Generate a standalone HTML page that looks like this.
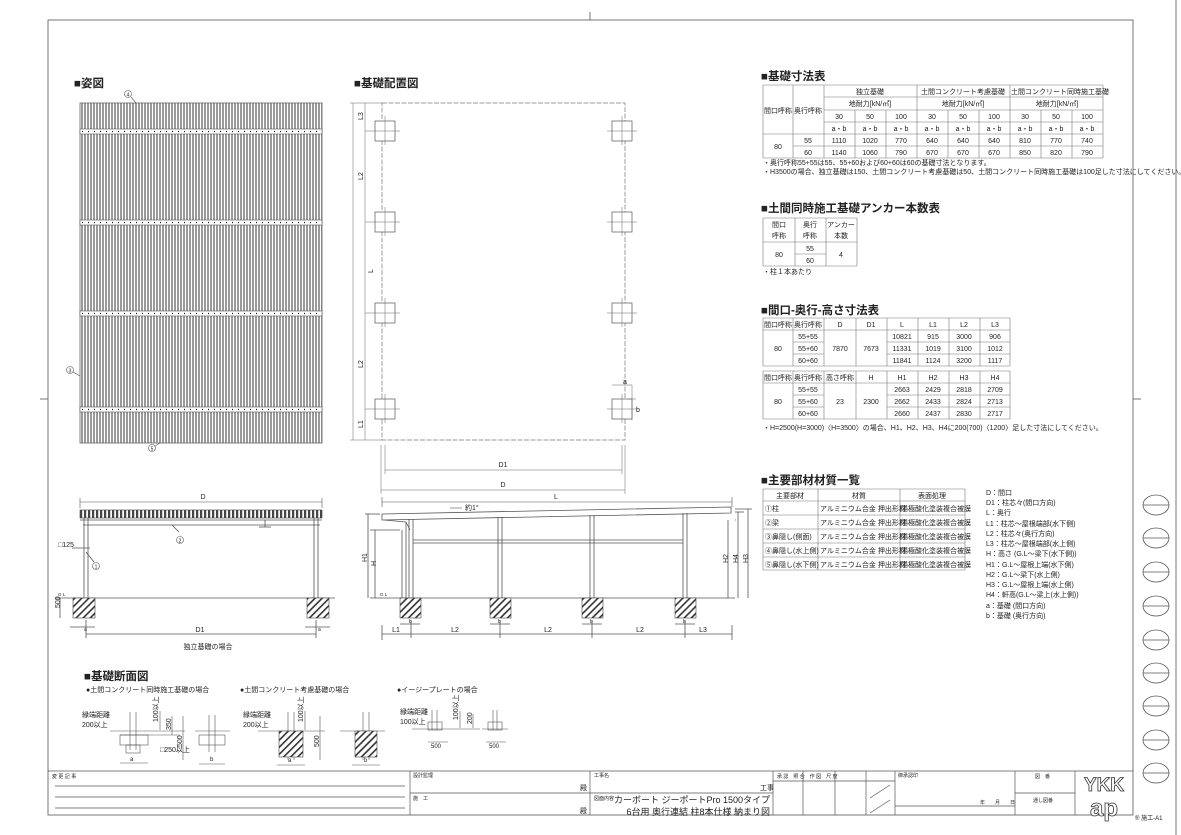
<!DOCTYPE html>
<html><head><meta charset="utf-8"><style>
html,body{margin:0;padding:0;background:#fff;}
svg{display:block;}
text{font-family:"Liberation Sans","Noto Sans CJK JP",sans-serif;fill:#222;}
.t{font-size:7px;}
.h{font-size:11.5px;font-weight:bold;}
.m{text-anchor:middle;}
</style></head><body>
<svg width="1181" height="835" viewBox="0 0 1181 835" xmlns="http://www.w3.org/2000/svg">
<defs>
<pattern id="rs" width="3" height="10" patternUnits="userSpaceOnUse"><rect width="3" height="10" fill="#fff"/><rect width="2" height="10" fill="#9a9a9a"/></pattern>
<pattern id="fb" width="4" height="10" patternUnits="userSpaceOnUse"><rect width="4" height="10" fill="#fff"/><rect width="2.2" height="10" fill="#444"/></pattern>
<pattern id="ht" width="5" height="5" patternUnits="userSpaceOnUse" patternTransform="rotate(45)"><rect width="5" height="5" fill="#fff"/><rect width="1.6" height="5" fill="#333"/></pattern>
</defs>
<g fill="none" stroke="#555" stroke-width="0.8">
<rect x="48" y="20" width="1085" height="795"/>
<line x1="1176" y1="0" x2="1176" y2="835"/>
<line x1="40" y1="399" x2="48" y2="399"/><line x1="1133" y1="399" x2="1141" y2="399"/>
<line x1="590" y1="12" x2="590" y2="20"/>
</g>
<!-- circles right -->
<g fill="none" stroke="#555" stroke-width="0.8">
<ellipse cx="1156" cy="505" rx="13" ry="10"/><line x1="1143" y1="505" x2="1169" y2="505"/>
<ellipse cx="1156" cy="538" rx="13" ry="10"/><line x1="1143" y1="538" x2="1169" y2="538"/>
<ellipse cx="1156" cy="572" rx="13" ry="10"/><line x1="1143" y1="572" x2="1169" y2="572"/>
<ellipse cx="1156" cy="606" rx="13" ry="10"/><line x1="1143" y1="606" x2="1169" y2="606"/>
<ellipse cx="1156" cy="640" rx="13" ry="10"/><line x1="1143" y1="640" x2="1169" y2="640"/>
<ellipse cx="1156" cy="673" rx="13" ry="10"/><line x1="1143" y1="673" x2="1169" y2="673"/>
<ellipse cx="1156" cy="706" rx="13" ry="10"/><line x1="1143" y1="706" x2="1169" y2="706"/>
<ellipse cx="1156" cy="740" rx="13" ry="10"/><line x1="1143" y1="740" x2="1169" y2="740"/>
<ellipse cx="1156" cy="773" rx="13" ry="10"/><line x1="1143" y1="773" x2="1169" y2="773"/>
</g>

<!-- 姿図 -->
<text x="74" y="87" class="h">■姿図</text>
<rect x="80" y="103" width="242" height="340" fill="url(#rs)" stroke="#666" stroke-width="0.8"/>
<g fill="#fff" stroke="#555" stroke-width="0.6">
<rect x="80" y="129" width="242" height="5"/><rect x="80" y="220" width="242" height="5"/><rect x="80" y="311" width="242" height="5"/><rect x="80" y="407" width="242" height="5"/>
</g>
<g stroke="#222" stroke-width="1.2" stroke-dasharray="1 5">
<line x1="82" y1="131.5" x2="322" y2="131.5"/><line x1="82" y1="222.5" x2="322" y2="222.5"/><line x1="82" y1="313.5" x2="322" y2="313.5"/><line x1="82" y1="409.5" x2="322" y2="409.5"/>
</g>
<g fill="none" stroke="#555" stroke-width="0.6">
<circle cx="128" cy="94" r="3.5"/><line x1="131" y1="97" x2="136" y2="103"/>
<circle cx="70" cy="370" r="3.5"/><line x1="73" y1="372" x2="80" y2="376"/>
<circle cx="152" cy="448" r="3.5"/><line x1="155" y1="446" x2="160" y2="443"/>
</g>
<text x="128" y="96.5" class="t m" style="font-size:5px">4</text>
<text x="70" y="372.5" class="t m" style="font-size:5px">3</text>
<text x="152" y="450.5" class="t m" style="font-size:5px">5</text>

<!-- 基礎配置図 -->
<text x="354" y="87" class="h">■基礎配置図</text>
<rect x="382" y="103" width="243" height="337" fill="none" stroke="#777" stroke-width="0.7" stroke-dasharray="5 1.5"/>
<g fill="#fff" stroke="#555" stroke-width="0.7">
<rect x="375" y="121" width="20" height="20"/><rect x="612" y="121" width="20" height="20"/>
<rect x="375" y="212" width="20" height="20"/><rect x="612" y="212" width="20" height="20"/>
<rect x="375" y="303" width="20" height="20"/><rect x="612" y="303" width="20" height="20"/>
<rect x="375" y="399" width="20" height="20"/><rect x="612" y="399" width="20" height="20"/>
</g>
<g stroke="#666" stroke-width="0.5">
<line x1="365" y1="131" x2="400" y2="131"/><line x1="607" y1="131" x2="637" y2="131"/>
<line x1="365" y1="222" x2="400" y2="222"/><line x1="607" y1="222" x2="637" y2="222"/>
<line x1="365" y1="313" x2="400" y2="313"/><line x1="607" y1="313" x2="637" y2="313"/>
<line x1="365" y1="409" x2="400" y2="409"/><line x1="607" y1="409" x2="637" y2="409"/>
<line x1="385" y1="116" x2="385" y2="145"/><line x1="622" y1="116" x2="622" y2="145"/>
<line x1="385" y1="207" x2="385" y2="236"/><line x1="622" y1="207" x2="622" y2="236"/>
<line x1="385" y1="298" x2="385" y2="327"/><line x1="622" y1="298" x2="622" y2="327"/>
<line x1="385" y1="394" x2="385" y2="423"/><line x1="622" y1="394" x2="622" y2="423"/>
<line x1="353" y1="103" x2="353" y2="440"/><line x1="365" y1="103" x2="365" y2="440"/>
<line x1="350" y1="103" x2="382" y2="103"/><line x1="350" y1="440" x2="382" y2="440"/>
<line x1="381" y1="445" x2="381" y2="494"/><line x1="625" y1="445" x2="625" y2="494"/>
<line x1="385" y1="445" x2="385" y2="474"/><line x1="622" y1="445" x2="622" y2="474"/>
<line x1="385" y1="470" x2="622" y2="470"/><line x1="381" y1="490" x2="625" y2="490"/>
<line x1="632" y1="385" x2="632" y2="420"/><line x1="628" y1="399" x2="636" y2="399"/>
<line x1="612" y1="385" x2="632" y2="385"/>
</g>
<text x="357" y="120" class="t" transform="rotate(-90 360 117)">L3</text>
<text x="357" y="180" class="t" transform="rotate(-90 360 177)">L2</text>
<text x="367" y="273" class="t" transform="rotate(-90 370 270)">L</text>
<text x="357" y="368" class="t" transform="rotate(-90 360 365)">L2</text>
<text x="357" y="428" class="t" transform="rotate(-90 360 425)">L1</text>
<text x="503" y="467" class="t m">D1</text><text x="503" y="487" class="t m">D</text>
<text x="623" y="384" class="t">a</text><text x="636" y="412" class="t">b</text>

<!-- front elevation -->
<g stroke="#555" stroke-width="0.6" fill="none">
<line x1="80" y1="502" x2="322" y2="502"/><line x1="80" y1="498" x2="80" y2="508"/><line x1="322" y1="498" x2="322" y2="508"/>
</g>
<text x="203" y="499" class="t m">D</text>
<rect x="80" y="510" width="242" height="8" fill="url(#fb)" stroke="#444" stroke-width="0.6"/>
<g stroke="#555" stroke-width="0.8" fill="none">
<line x1="80" y1="520" x2="322" y2="520"/><line x1="83" y1="525" x2="320" y2="525"/>
<line x1="84" y1="518" x2="84" y2="598"/><line x1="88" y1="518" x2="88" y2="598"/>
<line x1="314" y1="518" x2="314" y2="598"/><line x1="318" y1="518" x2="318" y2="598"/>
<line x1="265" y1="520" x2="265" y2="527"/><line x1="259" y1="527" x2="271" y2="527"/>
<line x1="55" y1="598" x2="335" y2="598"/>
<line x1="179" y1="532" x2="172" y2="525"/>
<line x1="90" y1="548" x2="72" y2="548"/><line x1="94" y1="562" x2="86" y2="552"/>
<line x1="70" y1="627" x2="95" y2="627"/><line x1="305" y1="627" x2="330" y2="627"/>
<line x1="86" y1="634" x2="316" y2="634"/><line x1="86" y1="620" x2="86" y2="638"/><line x1="316" y1="620" x2="316" y2="638"/>
<line x1="60" y1="598" x2="60" y2="618"/>
</g>
<rect x="73" y="598" width="22" height="20" fill="url(#ht)" stroke="#444" stroke-width="0.6"/>
<rect x="307" y="598" width="22" height="20" fill="url(#ht)" stroke="#444" stroke-width="0.6"/>
<circle cx="180" cy="540" r="3.5" fill="#fff" stroke="#555" stroke-width="0.6"/>
<circle cx="96" cy="566" r="3.5" fill="#fff" stroke="#555" stroke-width="0.6"/>
<text x="180" y="542.5" class="m" style="font-size:5px">2</text>
<text x="96" y="568.5" class="m" style="font-size:5px">1</text>
<text x="58" y="547" class="t">□125</text>
<text x="58" y="596" style="font-size:4.5px">G L</text>
<text x="57" y="611" class="t" transform="rotate(-90 57 608)">500</text>
<text x="84" y="631" style="font-size:5px">a</text><text x="318" y="631" style="font-size:5px">a</text>
<text x="200" y="632" class="t m">D1</text>
<text x="208" y="649" class="t m">独立基礎の場合</text>

<!-- side elevation -->
<g stroke="#555" stroke-width="0.6" fill="none">
<line x1="382" y1="502" x2="732" y2="502"/><line x1="382" y1="497" x2="382" y2="507"/><line x1="732" y1="497" x2="732" y2="507"/>
<line x1="450" y1="508" x2="462" y2="508"/>
</g>
<text x="556" y="499" class="t m">L</text><text x="465" y="510" class="t">約1°</text>
<g stroke="#555" stroke-width="0.8" fill="none">
<polygon points="382,514 731,507 731,513 382,520"/>
<line x1="384" y1="520" x2="406" y2="522"/><line x1="406" y1="522" x2="410" y2="530"/>
<line x1="402" y1="530" x2="402" y2="598"/><line x1="406" y1="522" x2="406" y2="598"/>
<line x1="409" y1="519" x2="409" y2="598"/><line x1="413" y1="519" x2="413" y2="598"/>
<line x1="498" y1="517" x2="498" y2="598"/><line x1="502" y1="517" x2="502" y2="598"/>
<line x1="590" y1="515" x2="590" y2="598"/><line x1="594" y1="515" x2="594" y2="598"/>
<line x1="683" y1="513" x2="683" y2="598"/><line x1="687" y1="513" x2="687" y2="598"/>
<line x1="413" y1="540" x2="683" y2="540"/><line x1="413" y1="543" x2="683" y2="543"/>
<line x1="370" y1="598" x2="735" y2="598"/>
<line x1="365" y1="514" x2="380" y2="514"/><line x1="368" y1="514" x2="368" y2="598"/>
<line x1="370" y1="530" x2="400" y2="530"/><line x1="375" y1="530" x2="375" y2="598"/>
<line x1="735" y1="509" x2="752" y2="509"/><line x1="735" y1="512" x2="744" y2="512"/><line x1="735" y1="520" x2="736" y2="520"/>
<line x1="728" y1="520" x2="728" y2="598"/><line x1="738" y1="512" x2="738" y2="598"/><line x1="748" y1="509" x2="748" y2="598"/>
<line x1="382" y1="625" x2="382" y2="640"/><line x1="732" y1="625" x2="732" y2="640"/>
<line x1="382" y1="634" x2="732" y2="634"/>
<line x1="411" y1="620" x2="411" y2="638"/><line x1="500" y1="620" x2="500" y2="638"/><line x1="592" y1="620" x2="592" y2="638"/><line x1="685" y1="620" x2="685" y2="638"/>
<line x1="400" y1="624" x2="420" y2="624"/><line x1="490" y1="624" x2="510" y2="624"/><line x1="582" y1="624" x2="602" y2="624"/><line x1="675" y1="624" x2="695" y2="624"/>
</g>
<rect x="400" y="598" width="21" height="20" fill="url(#ht)" stroke="#444" stroke-width="0.6"/>
<rect x="490" y="598" width="21" height="20" fill="url(#ht)" stroke="#444" stroke-width="0.6"/>
<rect x="582" y="598" width="21" height="20" fill="url(#ht)" stroke="#444" stroke-width="0.6"/>
<rect x="675" y="598" width="21" height="20" fill="url(#ht)" stroke="#444" stroke-width="0.6"/>
<text x="361" y="562" class="t" transform="rotate(-90 364 559)">H1</text>
<text x="370" y="566" class="t" transform="rotate(-90 373 563)">H</text>
<text x="722" y="563" class="t" transform="rotate(-90 725 560)">H2</text>
<text x="732" y="563" class="t" transform="rotate(-90 735 560)">H4</text>
<text x="742" y="563" class="t" transform="rotate(-90 745 560)">H3</text>
<text x="380" y="596" style="font-size:4.5px">G L</text>
<text x="396" y="632" class="t m">L1</text><text x="455" y="632" class="t m">L2</text><text x="548" y="632" class="t m">L2</text><text x="640" y="632" class="t m">L2</text><text x="703" y="632" class="t m">L3</text>
<text x="409" y="623" style="font-size:5px">b</text><text x="498" y="623" style="font-size:5px">b</text><text x="590" y="623" style="font-size:5px">b</text><text x="683" y="623" style="font-size:5px">b</text>

<!-- 基礎断面図 -->
<text x="84" y="680" class="h">■基礎断面図</text>
<text x="86" y="692" class="t">●土間コンクリート同時施工基礎の場合</text>
<text x="240" y="692" class="t">●土間コンクリート考慮基礎の場合</text>
<text x="397" y="692" class="t">●イージープレートの場合</text>
<g stroke="#555" stroke-width="0.6" fill="none">
<line x1="110" y1="731" x2="185" y2="731"/><line x1="120" y1="735" x2="180" y2="735"/>
<rect x="120" y="735" width="28" height="10"/><line x1="130" y1="712" x2="130" y2="750"/><line x1="136" y1="712" x2="136" y2="750"/>
<rect x="126" y="745" width="14" height="8"/>
<line x1="160" y1="711" x2="160" y2="730"/><line x1="172" y1="716" x2="172" y2="735"/><line x1="183" y1="716" x2="183" y2="760"/>
<line x1="120" y1="763" x2="148" y2="763"/>
<line x1="195" y1="731" x2="230" y2="731"/><rect x="199" y="735" width="26" height="10"/><line x1="209" y1="715" x2="209" y2="752"/><line x1="215" y1="715" x2="215" y2="752"/><line x1="199" y1="764" x2="225" y2="764"/>
<line x1="258" y1="731" x2="325" y2="731"/><line x1="288" y1="712" x2="288" y2="760"/><line x1="294" y1="712" x2="294" y2="760"/>
<line x1="305" y1="711" x2="305" y2="730"/><line x1="320" y1="716" x2="320" y2="760"/><line x1="277" y1="765" x2="305" y2="765"/>
<line x1="340" y1="731" x2="385" y2="731"/><line x1="363" y1="712" x2="363" y2="760"/><line x1="369" y1="712" x2="369" y2="760"/><line x1="352" y1="765" x2="380" y2="765"/>
<line x1="412" y1="729" x2="480" y2="729"/><rect x="428" y="722" width="14" height="8"/><line x1="432" y1="710" x2="432" y2="730"/><line x1="437" y1="710" x2="437" y2="730"/>
<line x1="460" y1="711" x2="460" y2="728"/><line x1="473" y1="714" x2="473" y2="728"/><line x1="428" y1="742" x2="448" y2="742"/>
<line x1="482" y1="729" x2="508" y2="729"/><rect x="488" y="722" width="14" height="8"/><line x1="493" y1="710" x2="493" y2="730"/><line x1="497" y1="710" x2="497" y2="730"/><line x1="486" y1="742" x2="506" y2="742"/>
</g>
<rect x="279" y="731" width="24" height="26" fill="url(#ht)" stroke="#444" stroke-width="0.6"/>
<rect x="355" y="731" width="22" height="26" fill="url(#ht)" stroke="#444" stroke-width="0.6"/>
<text x="82" y="717" class="t">縁端距離</text><text x="82" y="727" class="t">200以上</text>
<text x="243" y="717" class="t">縁端距離</text><text x="243" y="727" class="t">200以上</text>
<text x="400" y="714" class="t">縁端距離</text><text x="400" y="724" class="t">100以上</text>
<text x="160" y="752" class="t">□250以上</text>
<text x="130" y="761" style="font-size:6px">a</text><text x="210" y="761" style="font-size:6px">b</text>
<text x="288" y="762" style="font-size:6px">a</text><text x="364" y="762" style="font-size:6px">b</text>
<text x="431" y="748" style="font-size:6px">500</text><text x="489" y="748" style="font-size:6px">500</text>
<text x="156" y="720" class="t" transform="rotate(-90 158 720)">100以上</text>
<text x="169" y="728" class="t" transform="rotate(-90 171 728)">350</text>
<text x="180" y="745" class="t" transform="rotate(-90 182 745)">500</text>
<text x="301" y="720" class="t" transform="rotate(-90 303 720)">100以上</text>
<text x="317" y="745" class="t" transform="rotate(-90 319 745)">500</text>
<text x="456" y="718" class="t" transform="rotate(-90 458 718)">100以上</text>
<text x="470" y="722" class="t" transform="rotate(-90 472 722)">200</text>

<!-- Table 1 -->
<text x="761" y="80" class="h">■基礎寸法表</text>
<g stroke="#777" stroke-width="0.6" fill="none">
<line x1="763" y1="85" x2="1103" y2="85"/><line x1="824" y1="97" x2="1103" y2="97"/><line x1="824" y1="110" x2="1103" y2="110"/><line x1="824" y1="122" x2="1103" y2="122"/>
<line x1="763" y1="134" x2="1103" y2="134"/><line x1="793" y1="146" x2="1103" y2="146"/><line x1="763" y1="158" x2="1103" y2="158"/>
<line x1="763" y1="85" x2="763" y2="158"/><line x1="793" y1="85" x2="793" y2="158"/><line x1="824" y1="85" x2="824" y2="158"/>
<line x1="855" y1="110" x2="855" y2="158"/><line x1="886" y1="110" x2="886" y2="158"/><line x1="917" y1="85" x2="917" y2="158"/>
<line x1="948" y1="110" x2="948" y2="158"/><line x1="979" y1="110" x2="979" y2="158"/><line x1="1010" y1="85" x2="1010" y2="158"/>
<line x1="1041" y1="110" x2="1041" y2="158"/><line x1="1072" y1="110" x2="1072" y2="158"/><line x1="1103" y1="85" x2="1103" y2="158"/>
</g>
<g class="t m">
<text x="870" y="94" class="t m">独立基礎</text><text x="963" y="94" class="t m">土間コンクリート考慮基礎</text><text x="1060" y="94" class="t m">土間コンクリート同時施工基礎</text>
<text x="870" y="106" class="t m">地耐力[kN/㎡]</text><text x="963" y="106" class="t m">地耐力[kN/㎡]</text><text x="1057" y="106" class="t m">地耐力[kN/㎡]</text>
<text x="778" y="113" class="t m">間口呼称</text><text x="808" y="113" class="t m">奥行呼称</text>
<text x="839" y="119" class="t m">30</text><text x="870" y="119" class="t m">50</text><text x="901" y="119" class="t m">100</text><text x="932" y="119" class="t m">30</text><text x="963" y="119" class="t m">50</text><text x="994" y="119" class="t m">100</text><text x="1025" y="119" class="t m">30</text><text x="1056" y="119" class="t m">50</text><text x="1087" y="119" class="t m">100</text>
<text x="839" y="131" class="t m">a・b</text><text x="870" y="131" class="t m">a・b</text><text x="901" y="131" class="t m">a・b</text><text x="932" y="131" class="t m">a・b</text><text x="963" y="131" class="t m">a・b</text><text x="994" y="131" class="t m">a・b</text><text x="1025" y="131" class="t m">a・b</text><text x="1056" y="131" class="t m">a・b</text><text x="1087" y="131" class="t m">a・b</text>
<text x="778" y="149" class="t m">80</text><text x="808" y="143" class="t m">55</text><text x="808" y="155" class="t m">60</text>
<text x="839" y="143" class="t m">1110</text><text x="870" y="143" class="t m">1020</text><text x="901" y="143" class="t m">770</text><text x="932" y="143" class="t m">640</text><text x="963" y="143" class="t m">640</text><text x="994" y="143" class="t m">640</text><text x="1025" y="143" class="t m">810</text><text x="1056" y="143" class="t m">770</text><text x="1087" y="143" class="t m">740</text>
<text x="839" y="155" class="t m">1140</text><text x="870" y="155" class="t m">1060</text><text x="901" y="155" class="t m">790</text><text x="932" y="155" class="t m">670</text><text x="963" y="155" class="t m">670</text><text x="994" y="155" class="t m">670</text><text x="1025" y="155" class="t m">850</text><text x="1056" y="155" class="t m">820</text><text x="1087" y="155" class="t m">790</text>
</g>
<text x="763" y="165" class="t">・奥行呼称55+55は55、55+60および60+60は60の基礎寸法となります。</text>
<text x="763" y="174" class="t">・H3500の場合、独立基礎は150、土間コンクリート考慮基礎は50、土間コンクリート同時施工基礎は100足した寸法にしてください。</text>

<!-- Table 2 -->
<text x="761" y="212" class="h">■土間同時施工基礎アンカー本数表</text>
<g stroke="#777" stroke-width="0.6" fill="none">
<line x1="763" y1="218" x2="857" y2="218"/><line x1="763" y1="242" x2="857" y2="242"/><line x1="795" y1="254" x2="826" y2="254"/><line x1="763" y1="266" x2="857" y2="266"/>
<line x1="763" y1="218" x2="763" y2="266"/><line x1="795" y1="218" x2="795" y2="266"/><line x1="826" y1="218" x2="826" y2="266"/><line x1="857" y1="218" x2="857" y2="266"/>
</g>
<text x="779" y="227" class="t m">間口</text><text x="779" y="238" class="t m">呼称</text>
<text x="810" y="227" class="t m">奥行</text><text x="810" y="238" class="t m">呼称</text>
<text x="841" y="227" class="t m">アンカー</text><text x="841" y="238" class="t m">本数</text>
<text x="779" y="257" class="t m">80</text><text x="810" y="251" class="t m">55</text><text x="810" y="263" class="t m">60</text><text x="841" y="257" class="t m">4</text>
<text x="763" y="274" class="t">・柱１本あたり</text>

<!-- Table 3 -->
<text x="761" y="314" class="h">■間口-奥行-高さ寸法表</text>
<g stroke="#777" stroke-width="0.6" fill="none">
<line x1="763" y1="318" x2="1010" y2="318"/><line x1="763" y1="330" x2="1010" y2="330"/><line x1="793" y1="342" x2="824" y2="342"/><line x1="887" y1="342" x2="1010" y2="342"/><line x1="793" y1="354" x2="824" y2="354"/><line x1="887" y1="354" x2="1010" y2="354"/><line x1="763" y1="366" x2="1010" y2="366"/>
<line x1="763" y1="318" x2="763" y2="366"/><line x1="793" y1="318" x2="793" y2="366"/><line x1="824" y1="318" x2="824" y2="366"/><line x1="856" y1="318" x2="856" y2="366"/><line x1="887" y1="318" x2="887" y2="366"/><line x1="918" y1="318" x2="918" y2="366"/><line x1="949" y1="318" x2="949" y2="366"/><line x1="980" y1="318" x2="980" y2="366"/><line x1="1010" y1="318" x2="1010" y2="366"/>
<line x1="763" y1="371" x2="1010" y2="371"/><line x1="763" y1="383" x2="1010" y2="383"/><line x1="793" y1="395" x2="824" y2="395"/><line x1="887" y1="395" x2="1010" y2="395"/><line x1="793" y1="407" x2="824" y2="407"/><line x1="887" y1="407" x2="1010" y2="407"/><line x1="763" y1="419" x2="1010" y2="419"/>
<line x1="763" y1="371" x2="763" y2="419"/><line x1="793" y1="371" x2="793" y2="419"/><line x1="824" y1="371" x2="824" y2="419"/><line x1="856" y1="371" x2="856" y2="419"/><line x1="887" y1="371" x2="887" y2="419"/><line x1="918" y1="371" x2="918" y2="419"/><line x1="949" y1="371" x2="949" y2="419"/><line x1="980" y1="371" x2="980" y2="419"/><line x1="1010" y1="371" x2="1010" y2="419"/>
</g>
<text x="778" y="327" class="t m">間口呼称</text><text x="808" y="327" class="t m">奥行呼称</text><text x="840" y="327" class="t m">D</text><text x="871" y="327" class="t m">D1</text><text x="902" y="327" class="t m">L</text><text x="933" y="327" class="t m">L1</text><text x="964" y="327" class="t m">L2</text><text x="995" y="327" class="t m">L3</text>
<text x="778" y="351" class="t m">80</text><text x="840" y="351" class="t m">7870</text><text x="871" y="351" class="t m">7673</text>
<text x="808" y="339" class="t m">55+55</text><text x="808" y="351" class="t m">55+60</text><text x="808" y="363" class="t m">60+60</text>
<text x="902" y="339" class="t m">10821</text><text x="933" y="339" class="t m">915</text><text x="964" y="339" class="t m">3000</text><text x="995" y="339" class="t m">906</text>
<text x="902" y="351" class="t m">11331</text><text x="933" y="351" class="t m">1019</text><text x="964" y="351" class="t m">3100</text><text x="995" y="351" class="t m">1012</text>
<text x="902" y="363" class="t m">11841</text><text x="933" y="363" class="t m">1124</text><text x="964" y="363" class="t m">3200</text><text x="995" y="363" class="t m">1117</text>
<text x="778" y="380" class="t m">間口呼称</text><text x="808" y="380" class="t m">奥行呼称</text><text x="840" y="380" class="t m">高さ呼称</text><text x="871" y="380" class="t m">H</text><text x="902" y="380" class="t m">H1</text><text x="933" y="380" class="t m">H2</text><text x="964" y="380" class="t m">H3</text><text x="995" y="380" class="t m">H4</text>
<text x="778" y="404" class="t m">80</text><text x="840" y="404" class="t m">23</text><text x="871" y="404" class="t m">2300</text>
<text x="808" y="392" class="t m">55+55</text><text x="808" y="404" class="t m">55+60</text><text x="808" y="416" class="t m">60+60</text>
<text x="902" y="392" class="t m">2663</text><text x="933" y="392" class="t m">2429</text><text x="964" y="392" class="t m">2818</text><text x="995" y="392" class="t m">2709</text>
<text x="902" y="404" class="t m">2662</text><text x="933" y="404" class="t m">2433</text><text x="964" y="404" class="t m">2824</text><text x="995" y="404" class="t m">2713</text>
<text x="902" y="416" class="t m">2660</text><text x="933" y="416" class="t m">2437</text><text x="964" y="416" class="t m">2830</text><text x="995" y="416" class="t m">2717</text>
<text x="763" y="430" class="t">・H=2500(H=3000)〈H=3500〉の場合、H1、H2、H3、H4に200(700)〈1200〉足した寸法にしてください。</text>

<!-- Table 4 -->
<text x="761" y="484" class="h">■主要部材材質一覧</text>
<g stroke="#777" stroke-width="0.6" fill="none">
<line x1="763" y1="489" x2="965" y2="489"/><line x1="763" y1="501" x2="965" y2="501"/><line x1="763" y1="515" x2="965" y2="515"/><line x1="763" y1="529" x2="965" y2="529"/><line x1="763" y1="543" x2="965" y2="543"/><line x1="763" y1="557" x2="965" y2="557"/><line x1="763" y1="570" x2="965" y2="570"/>
<line x1="763" y1="489" x2="763" y2="570"/><line x1="818" y1="489" x2="818" y2="570"/><line x1="900" y1="489" x2="900" y2="570"/><line x1="965" y1="489" x2="965" y2="570"/>
</g>
<text x="790" y="498" class="t m">主要部材</text><text x="859" y="498" class="t m">材質</text><text x="932" y="498" class="t m">表面処理</text>
<text x="765" y="511" class="t">①柱</text><text x="765" y="525" class="t">②梁</text><text x="765" y="539" class="t">③鼻隠し(側面)</text><text x="765" y="553" class="t">④鼻隠し(水上側)</text><text x="765" y="567" class="t">⑤鼻隠し(水下側)</text>
<text x="820" y="511" class="t">アルミニウム合金 押出形材</text><text x="820" y="525" class="t">アルミニウム合金 押出形材</text><text x="820" y="539" class="t">アルミニウム合金 押出形材</text><text x="820" y="553" class="t">アルミニウム合金 押出形材</text><text x="820" y="567" class="t">アルミニウム合金 押出形材</text>
<text x="901" y="511" class="t">陽極酸化塗装複合被膜</text><text x="901" y="525" class="t">陽極酸化塗装複合被膜</text><text x="901" y="539" class="t">陽極酸化塗装複合被膜</text><text x="901" y="553" class="t">陽極酸化塗装複合被膜</text><text x="901" y="567" class="t">陽極酸化塗装複合被膜</text>
<g class="t">
<text x="986" y="495" class="t">D：間口</text>
<text x="986" y="505" class="t">D1：柱芯々(間口方向)</text>
<text x="986" y="515" class="t">L：奥行</text>
<text x="986" y="526" class="t">L1：柱芯～屋根端部(水下側)</text>
<text x="986" y="536" class="t">L2：柱芯々(奥行方向)</text>
<text x="986" y="546" class="t">L3：柱芯～屋根端部(水上側)</text>
<text x="986" y="556" class="t">H：高さ (G.L～梁下(水下側))</text>
<text x="986" y="567" class="t">H1：G.L～屋根上端(水下側)</text>
<text x="986" y="577" class="t">H2：G.L～梁下(水上側)</text>
<text x="986" y="587" class="t">H3：G.L～屋根上端(水上側)</text>
<text x="986" y="597" class="t">H4：軒高(G.L～梁上(水上側))</text>
<text x="986" y="608" class="t">a：基礎 (間口方向)</text>
<text x="986" y="618" class="t">b：基礎 (奥行方向)</text>
</g>

<!-- title block -->
<g stroke="#555" stroke-width="0.7" fill="none">
<line x1="48" y1="771" x2="1133" y2="771"/>
<line x1="410" y1="771" x2="410" y2="815"/><line x1="590" y1="771" x2="590" y2="815"/><line x1="773" y1="771" x2="773" y2="815"/>
<line x1="803" y1="771" x2="803" y2="815"/><line x1="835" y1="771" x2="835" y2="815"/><line x1="866" y1="771" x2="866" y2="815"/><line x1="895" y1="771" x2="895" y2="815"/>
<line x1="1015" y1="771" x2="1015" y2="815"/><line x1="1075" y1="771" x2="1075" y2="815"/>
<line x1="410" y1="793" x2="773" y2="793"/><line x1="1015" y1="793" x2="1075" y2="793"/>
<line x1="895" y1="806" x2="1015" y2="806"/>
<line x1="773" y1="781" x2="895" y2="781"/>
<line x1="55" y1="786" x2="405" y2="786"/><line x1="55" y1="797" x2="405" y2="797"/><line x1="55" y1="808" x2="405" y2="808"/>
<line x1="870" y1="798" x2="890" y2="785"/><line x1="870" y1="813" x2="890" y2="800"/>
</g>
<text x="52" y="778" style="font-size:5px">変 更 記 事</text>
<text x="413" y="777" style="font-size:5px">設計監理</text><text x="413" y="800" style="font-size:5px">施　工</text>
<text x="580" y="790" class="t">殿</text><text x="580" y="813" class="t">殿</text>
<text x="594" y="777" style="font-size:5px">工事名</text><text x="760" y="790" class="t">工事</text>
<text x="594" y="800" style="font-size:5px">図面内容</text>
<text x="770" y="803" style="font-size:9px;text-anchor:end">カーボート ジーポートPro 1500タイプ</text>
<text x="770" y="815" style="font-size:9px;text-anchor:end">6台用 奥行連結 柱8本仕様 納まり図</text>
<text x="777" y="778" style="font-size:5px">承 認　照 合　作 図　尺 度</text>
<text x="898" y="777" style="font-size:5px">御承認印</text>
<text x="980" y="804" style="font-size:5px">年　　月　　日</text>
<text x="1035" y="778" style="font-size:5px">図　番</text><text x="1033" y="802" style="font-size:5px">通し図番</text>
<text x="1104" y="791" style="font-size:19px;font-weight:bold;text-anchor:middle;fill:#fff;stroke:#333;stroke-width:0.8">YKK</text>
<text x="1104" y="816" style="font-size:24px;font-weight:bold;text-anchor:middle;fill:#fff;stroke:#333;stroke-width:0.8">ap</text>
<text x="1135" y="820" style="font-size:6px">® 施工-A1</text>
</svg>
</body></html>
